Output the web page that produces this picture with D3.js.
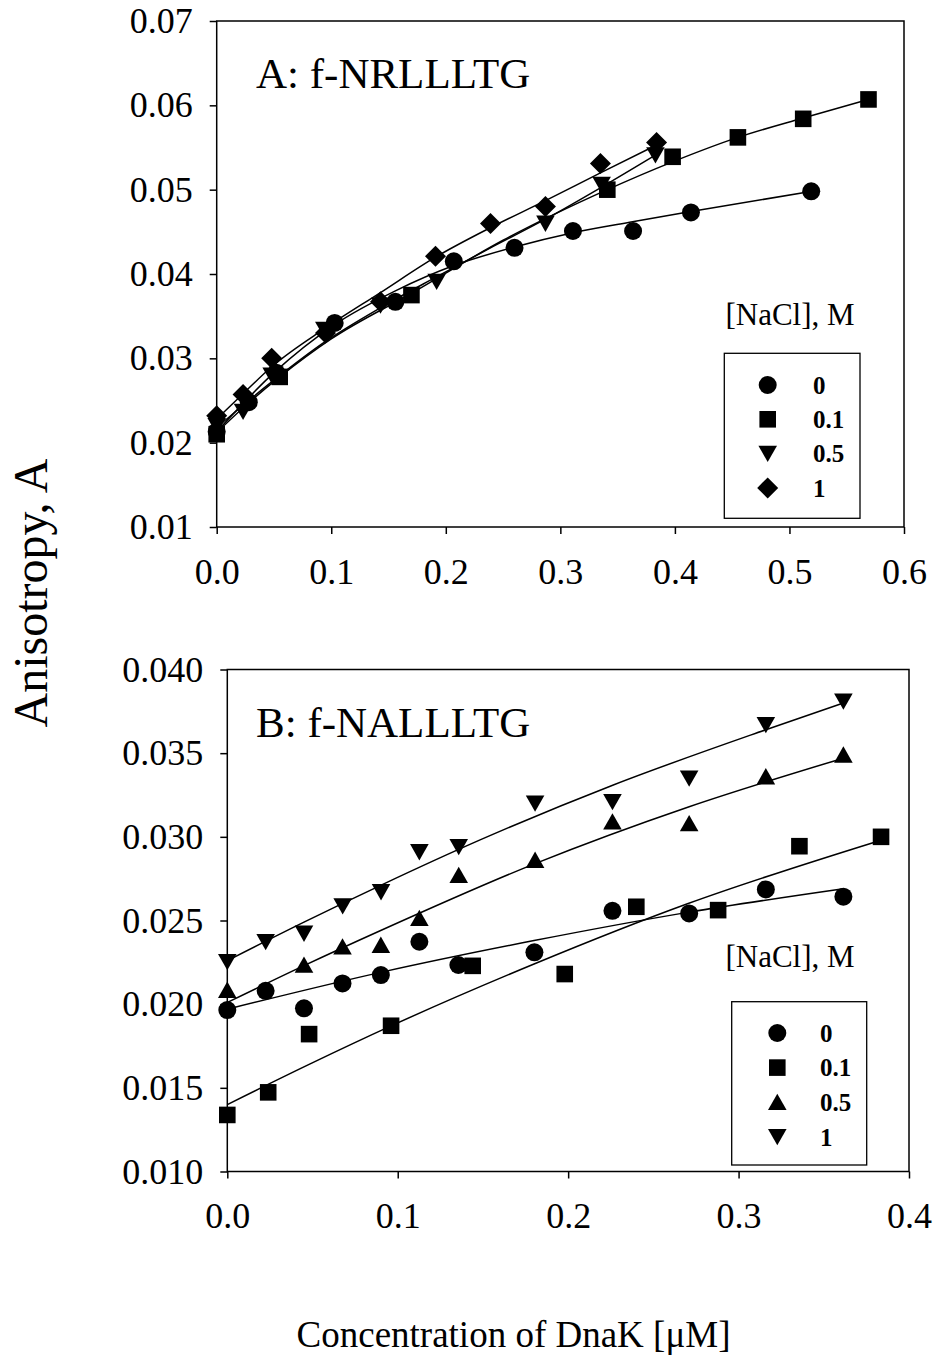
<!DOCTYPE html>
<html><head><meta charset="utf-8">
<script src="https://cdn.jsdelivr.net/npm/d3@7"></script>
<style>body{margin:0;background:#fff}</style>
</head><body>
<svg id="chart" width="933" height="1367"></svg>
<script>
// ---------------- DATA ----------------
const saltLabels = ["0", "0.1", "0.5", "1"];

// Panel A: f-NRLLLTG
const A0_x  = [0, 0.028, 0.052, 0.103, 0.156, 0.207, 0.260, 0.311, 0.3635, 0.414, 0.519];
const A0_y  = [0.0213, 0.0248, 0.0283, 0.0342, 0.0367, 0.0415, 0.0431, 0.0451, 0.0451, 0.0473, 0.0498];
const A01_x = [0, 0.055, 0.170, 0.341, 0.398, 0.455, 0.512, 0.569];
const A01_y = [0.0210, 0.0278, 0.0375, 0.0500, 0.0539, 0.0562, 0.0584, 0.0607];
const A05_x = [0, 0.023, 0.048, 0.094, 0.143, 0.192, 0.287, 0.336, 0.383];
const A05_y = [0.0220, 0.0237, 0.0280, 0.0334, 0.0363, 0.0391, 0.0460, 0.0506, 0.0541];
const A1_x  = [0, 0.023, 0.048, 0.095, 0.143, 0.191, 0.239, 0.287, 0.335, 0.384];
const A1_y  = [0.0232, 0.0257, 0.0300, 0.0330, 0.0367, 0.0421, 0.0460, 0.0480, 0.0531, 0.0556];

// Panel A fitted curves
const A0_fx  = [0, 0.05, 0.103, 0.156, 0.207, 0.26, 0.311, 0.363, 0.414, 0.519];
const A0_fy  = [0.0213, 0.0283, 0.0340, 0.0380, 0.0410, 0.0432, 0.0449, 0.0462, 0.0474, 0.0498];
const A01_fx = [0, 0.026, 0.055, 0.1, 0.17, 0.25, 0.341, 0.398, 0.455, 0.512, 0.569];
const A01_fy = [0.0212, 0.0245, 0.0278, 0.0323, 0.0377, 0.0440, 0.0500, 0.0533, 0.0562, 0.0585, 0.0607];
const A05_fx = [0, 0.048, 0.095, 0.143, 0.191, 0.239, 0.287, 0.336, 0.383];
const A05_fy = [0.0218, 0.0272, 0.0320, 0.0360, 0.0396, 0.0431, 0.0465, 0.0503, 0.0541];
const A1_fx  = [0, 0.023, 0.048, 0.095, 0.143, 0.191, 0.239, 0.287, 0.335, 0.384];
const A1_fy  = [0.0228, 0.0258, 0.0290, 0.0336, 0.0378, 0.0420, 0.0455, 0.0487, 0.0520, 0.0553];

// Panel B: f-NALLLTG
const B0_x  = [0, 0.0225, 0.045, 0.0676, 0.0901, 0.1127, 0.1356, 0.1802, 0.226, 0.271, 0.316, 0.3615];
const B0_y  = [0.01965, 0.0208, 0.01975, 0.02124, 0.02174, 0.02373, 0.02234, 0.0231, 0.02558, 0.02542, 0.02686, 0.02642];
const B01_x = [0, 0.024, 0.048, 0.0961, 0.144, 0.198, 0.240, 0.288, 0.3357, 0.3836];
const B01_y = [0.01338, 0.01473, 0.01821, 0.01871, 0.02229, 0.0218, 0.02582, 0.02562, 0.02944, 0.0300];
const B05_x = [0, 0.045, 0.0676, 0.0901, 0.1127, 0.1358, 0.1806, 0.226, 0.271, 0.316, 0.3615];
const B05_y = [0.02084, 0.02234, 0.02343, 0.02353, 0.02513, 0.02771, 0.02861, 0.0309, 0.0308, 0.0336, 0.0349];
const B1_x  = [0, 0.0225, 0.045, 0.0677, 0.0902, 0.1127, 0.1358, 0.1806, 0.226, 0.271, 0.316, 0.3615];
const B1_y  = [0.02253, 0.02373, 0.02423, 0.02586, 0.02671, 0.0291, 0.0294, 0.0320, 0.0321, 0.0335, 0.0367, 0.0381];

// Panel B fitted curves
const B0_fx  = [0, 0.09, 0.18, 0.271, 0.3615];
const B0_fy  = [0.0197, 0.0219, 0.0238, 0.0255, 0.0269];
const B01_fx = [0, 0.048, 0.0961, 0.18, 0.27, 0.3836];
const B01_fy = [0.0140, 0.0164, 0.0187, 0.0224, 0.0260, 0.0298];
const B05_fx = [0, 0.045, 0.09, 0.1806, 0.271, 0.3615];
const B05_fy = [0.0201, 0.0223, 0.0244, 0.0284, 0.0318, 0.0347];
const B1_fx  = [0, 0.045, 0.09, 0.148, 0.2265, 0.316, 0.3615];
const B1_fy  = [0.0226, 0.0249, 0.0271, 0.0298, 0.0331, 0.0364, 0.0380];

// Tick values
const A_xticks = [0, 0.1, 0.2, 0.3, 0.4, 0.5, 0.6];
const A_yticks = [0.01, 0.02, 0.03, 0.04, 0.05, 0.06, 0.07];
const B_xticks = [0, 0.1, 0.2, 0.3, 0.4];
const B_yticks = [0.010, 0.015, 0.020, 0.025, 0.030, 0.035, 0.040];

// ---------------- DRAWING ----------------
const FONT = "'Liberation Serif','Times New Roman',Times,serif";
const svg = d3.select("#chart");
svg.append("rect").attr("width", 933).attr("height", 1367).attr("fill", "#fff");

const zip = (xs, ys) => xs.map((x, i) => ({x, y: ys[i]}));

const symbols = {
  circle: "M9,0A9,9 0 1,1 -9,0A9,9 0 1,1 9,0Z",
  square: "M-8.3,-8.3H8.3V8.3H-8.3Z",
  triUp: "M0,-8.5L9.3,7.8L-9.3,7.8Z",
  triDown: "M0,8.5L9.3,-7.8L-9.3,-7.8Z",
  diamond: "M0,-10.5L10.5,0L0,10.5L-10.5,0Z"
};

function panel(cfg) {
  const x = d3.scaleLinear().domain(cfg.xdom).range(cfg.xr);
  const y = d3.scaleLinear().domain(cfg.ydom).range(cfg.yr);
  const g = svg.append("g");

  g.append("rect")
    .attr("x", cfg.xr[0]).attr("y", cfg.yr[1])
    .attr("width", cfg.xr[1] - cfg.xr[0]).attr("height", cfg.yr[0] - cfg.yr[1])
    .attr("fill", "none").attr("stroke", "#000").attr("stroke-width", 1.5);

  const ax = g.append("g").attr("transform", `translate(0,${cfg.yr[0]})`)
    .call(d3.axisBottom(x).tickValues(cfg.xticks).tickFormat(d3.format(".1f"))
      .tickSize(7).tickSizeOuter(0).tickPadding(24));
  const ay = g.append("g").attr("transform", `translate(${cfg.xr[0]},0)`)
    .call(d3.axisLeft(y).tickValues(cfg.yticks).tickFormat(d3.format(cfg.yfmt))
      .tickSize(7).tickSizeOuter(0).tickPadding(17));
  [ax, ay].forEach(a => {
    a.select(".domain").remove();
    a.selectAll(".tick line").attr("stroke", "#000").attr("stroke-width", 1.5);
    a.selectAll(".tick text").attr("fill", "#000")
      .style("font-family", FONT).style("font-size", "36px");
  });

  const line = d3.line().x(d => x(d.x)).y(d => y(d.y)).curve(d3.curveMonotoneX);
  cfg.series.forEach(s => {
    g.append("path").attr("d", line(zip(s.fx, s.fy)))
      .attr("fill", "none").attr("stroke", "#000").attr("stroke-width", 1.5);
  });
  cfg.series.forEach(s => {
    g.selectAll(null).data(zip(s.x, s.y)).enter().append("path")
      .attr("d", symbols[s.sym])
      .attr("transform", d => `translate(${x(d.x)},${y(d.y)})`)
      .attr("fill", "#000");
  });

  g.append("text").attr("x", cfg.titlePos[0]).attr("y", cfg.titlePos[1])
    .text(cfg.title).style("font-family", FONT).style("font-size", "43px").attr("fill", "#000");

  const L = cfg.legend;
  g.append("text").attr("x", L.headX).attr("y", L.headY).attr("text-anchor", "middle")
    .text("[NaCl], M").style("font-family", FONT).style("font-size", "31px").attr("fill", "#000");
  g.append("rect").attr("x", L.box[0]).attr("y", L.box[1])
    .attr("width", L.box[2] - L.box[0]).attr("height", L.box[3] - L.box[1])
    .attr("fill", "#fff").attr("stroke", "#000").attr("stroke-width", 1.3);
  cfg.series.forEach((s, i) => {
    const ry = L.row0 + i * L.dy;
    g.append("path").attr("d", symbols[s.sym])
      .attr("transform", `translate(${L.symX},${ry})`).attr("fill", "#000");
    g.append("text").attr("x", L.labX).attr("y", ry).attr("dy", "0.35em")
      .text(saltLabels[i]).style("font-family", FONT).style("font-size", "25px")
      .style("font-weight", "bold").attr("fill", "#000");
  });
}

panel({
  xdom: [0, 0.6], xr: [216.7, 904], ydom: [0.01, 0.07], yr: [527, 21],
  xticks: A_xticks, yticks: A_yticks, yfmt: ".2f",
  title: "A: f-NRLLLTG", titlePos: [256, 88],
  series: [
    {x: A0_x, y: A0_y, fx: A0_fx, fy: A0_fy, sym: "circle"},
    {x: A01_x, y: A01_y, fx: A01_fx, fy: A01_fy, sym: "square"},
    {x: A05_x, y: A05_y, fx: A05_fx, fy: A05_fy, sym: "triDown"},
    {x: A1_x, y: A1_y, fx: A1_fx, fy: A1_fy, sym: "diamond"}
  ],
  legend: {headX: 790, headY: 325, box: [724.3, 353.3, 860, 518.3], symX: 767.7, labX: 813, row0: 385, dy: 34.3}
});

panel({
  xdom: [0, 0.4], xr: [227.3, 909], ydom: [0.010, 0.040], yr: [1171.5, 669.5],
  xticks: B_xticks, yticks: B_yticks, yfmt: ".3f",
  title: "B: f-NALLLTG", titlePos: [256, 737],
  series: [
    {x: B0_x, y: B0_y, fx: B0_fx, fy: B0_fy, sym: "circle"},
    {x: B01_x, y: B01_y, fx: B01_fx, fy: B01_fy, sym: "square"},
    {x: B05_x, y: B05_y, fx: B05_fx, fy: B05_fy, sym: "triUp"},
    {x: B1_x, y: B1_y, fx: B1_fx, fy: B1_fy, sym: "triDown"}
  ],
  legend: {headX: 790, headY: 967, box: [731.7, 1001.7, 866.7, 1165], symX: 777.3, labX: 820, row0: 1033, dy: 34.6}
});

svg.append("text").attr("transform", "translate(47,593) rotate(-90)")
  .attr("text-anchor", "middle").text("Anisotropy, A")
  .style("font-family", FONT).style("font-size", "48px").attr("fill", "#000");
svg.append("text").attr("x", 513.5).attr("y", 1347).attr("text-anchor", "middle")
  .text("Concentration of DnaK [μM]")
  .style("font-family", FONT).style("font-size", "37px").attr("fill", "#000");
</script>
</body></html>
